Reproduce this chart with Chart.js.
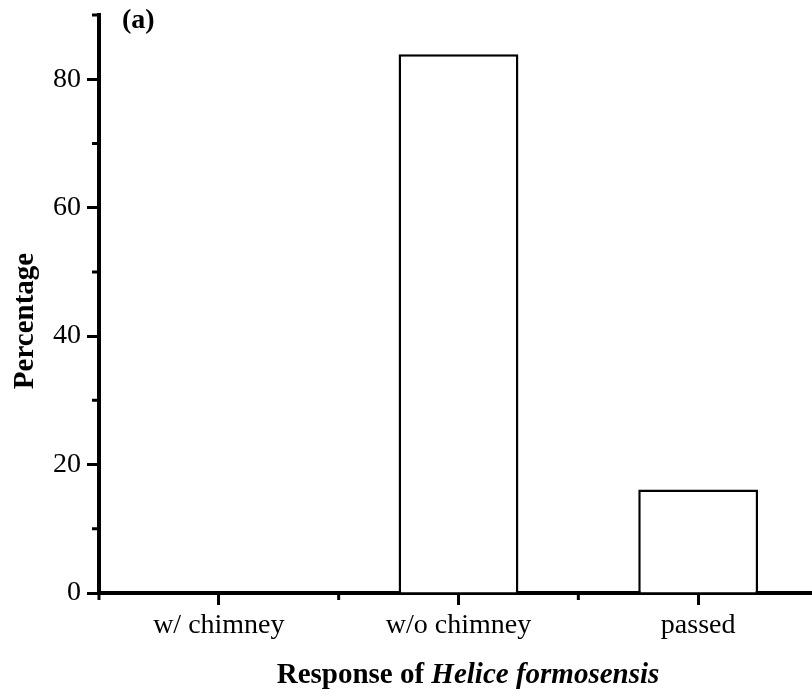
<!DOCTYPE html>
<html lang="en">
<head>
    <meta charset="UTF-8">
    <title>Response of Helice formosensis</title>
    <script src="https://cdn.jsdelivr.net/npm/chart.js@4.4.1/dist/chart.umd.min.js"></script>
    <style>
        html, body { margin: 0; padding: 0; background: #fff; overflow: hidden; }
        #chart { display: block; }
    </style>
</head>
<body>
<canvas id="chart" width="820" height="696"></canvas>
<script>
// data
const categories = ['w/ chimney', 'w/o chimney', 'passed'];
const percentages = [0, 83.9, 16.1];
const yMajorTicks = [0, 20, 40, 60, 80];
const yMinorTicks = [10, 30, 50, 70, 90];

const FONT = '"Liberation Serif", "Times New Roman", serif';

// short ticks, panel letter and axis titles (the x title mixes bold and bold italic)
const extras = {
    id: 'extras',
    afterDraw(chart) {
        const ctx = chart.ctx;
        const x = chart.scales.x;
        const y = chart.scales.y;
        const area = chart.chartArea;
        ctx.save();
        ctx.strokeStyle = '#000';
        ctx.lineWidth = 3;
        ctx.beginPath();
        for (const v of yMinorTicks) {
            const py = y.getPixelForValue(v);
            ctx.moveTo(area.left - 7, py);
            ctx.lineTo(area.left, py);
        }
        const half = x.width / categories.length / 2;
        for (let i = 0; i < categories.length; i++) {
            const px = x.getPixelForValue(i) - half;
            ctx.moveTo(px, area.bottom);
            ctx.lineTo(px, area.bottom + 7);
        }
        ctx.stroke();

        ctx.fillStyle = '#000';
        ctx.textBaseline = 'middle';
        ctx.textAlign = 'left';
        ctx.font = 'bold 28px ' + FONT;
        ctx.fillText('(a)', 122, 21);

        ctx.save();
        ctx.font = 'bold 29px ' + FONT;
        ctx.textAlign = 'center';
        ctx.textBaseline = 'alphabetic';
        ctx.translate(33, 321);
        ctx.rotate(-Math.PI / 2);
        ctx.fillText('Percentage', 0, 0);
        ctx.restore();

        const partA = 'Response of ';
        const partB = 'Helice formosensis';
        ctx.textAlign = 'left';
        ctx.textBaseline = 'alphabetic';
        ctx.font = 'bold 29px ' + FONT;
        const wA = ctx.measureText(partA).width;
        ctx.font = 'italic bold 29px ' + FONT;
        const wB = ctx.measureText(partB).width;
        const startX = 468 - (wA + wB) / 2;
        ctx.font = 'bold 29px ' + FONT;
        ctx.fillText(partA, startX, 683);
        ctx.font = 'italic bold 29px ' + FONT;
        ctx.fillText(partB, startX + wA, 683);
        ctx.restore();
    }
};

new Chart(document.getElementById('chart'), {
    type: 'bar',
    data: {
        labels: categories,
        datasets: [{
            data: percentages,
            backgroundColor: '#fff',
            borderColor: '#000',
            borderWidth: 2.5,
            barPercentage: 1,
            categoryPercentage: 0.5
        }]
    },
    options: {
        responsive: false,
        devicePixelRatio: 1,
        animation: false,
        layout: { padding: { top: 15, right: 2, left: 0, bottom: 0 } },
        plugins: {
            legend: { display: false },
            tooltip: { enabled: false }
        },
        scales: {
            x: {
                z: 1,
                offset: true,
                border: { display: true, color: '#000', width: 4 },
                grid: {
                    offset: false,
                    drawOnChartArea: false,
                    drawTicks: true,
                    tickLength: 12,
                    tickWidth: 3,
                    tickColor: '#000'
                },
                ticks: {
                    color: '#000',
                    padding: 4,
                    maxRotation: 0,
                    font: { family: FONT, size: 28 }
                },
                afterFit(scale) { scale.height = 103; }
            },
            y: {
                z: 1,
                min: 0,
                max: 90,
                border: { display: true, color: '#000', width: 4 },
                grid: {
                    drawOnChartArea: false,
                    drawTicks: true,
                    tickLength: 12,
                    tickWidth: 3,
                    tickColor: c => yMajorTicks.includes(c.tick.value) ? '#000' : 'rgba(0,0,0,0)'
                },
                ticks: {
                    stepSize: 10,
                    color: '#000',
                    padding: 6,
                    font: { family: FONT, size: 28 },
                    callback: v => yMajorTicks.includes(v) ? String(v) : ''
                },
                afterFit(scale) {
                    scale.width = 99;
                    scale.paddingTop = 0;
                    scale.paddingBottom = 0;
                }
            }
        }
    },
    plugins: [extras]
});
</script>
</body>
</html>
